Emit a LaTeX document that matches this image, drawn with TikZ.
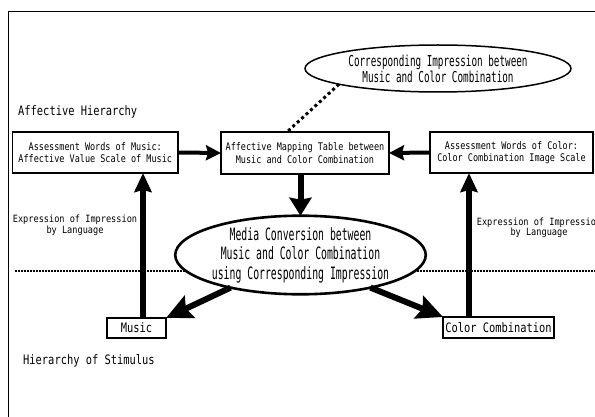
\documentclass[tikz,border=0pt]{standalone}
\usepackage{fontspec}
\usetikzlibrary{arrows.meta,shapes.geometric}
\newfontfamily\boxfont[FakeStretch=0.81]{DejaVu Sans Mono}
\newfontfamily\lblfont[FakeStretch=0.86]{DejaVu Sans Mono}
\newfontfamily\ellfont[FakeStretch=0.577]{DejaVu Sans Mono}
\newfontfamily\topfont[FakeStretch=0.62]{DejaVu Sans Mono}
\newfontfamily\stimfont[FakeStretch=0.8]{DejaVu Sans Mono}
\tikzset{
  thinbox/.style={draw, line width=1.3pt, rectangle, fill=white, inner sep=0pt, outer sep=0pt, align=center,
    font=\boxfont\fontsize{10.5}{12.5}\selectfont},
  thickbox/.style={thinbox, line width=2.6pt},
  stimbox/.style={draw, line width=1.3pt, rectangle, fill=white, inner sep=0pt, outer sep=0pt,
    font=\stimfont\fontsize{13}{15}\selectfont},
  lbl/.style={inner sep=0pt, align=center, font=\lblfont\fontsize{10}{10.5}\selectfont},
  stimlbl/.style={inner sep=0pt, font=\stimfont\fontsize{13}{15}\selectfont},
  topell/.style={draw, ellipse, line width=1.5pt, fill=white, inner sep=0pt, outer sep=0pt, align=center,
    minimum width=266pt, minimum height=47pt, font=\topfont\fontsize{15}{16}\selectfont},
  midell/.style={draw, ellipse, line width=2.6pt, fill=white, inner sep=0pt, outer sep=0pt, align=center,
    minimum width=225pt, minimum height=70pt, font=\ellfont\fontsize{17}{19.5}\selectfont},
  harr/.style={line width=4pt, -{Stealth[length=15pt,width=15pt,inset=2pt]}},
  dnarr/.style={line width=6pt, -{Stealth[length=18pt,width=22pt,inset=2pt]}},
  uparr/.style={line width=5.5pt, -{Stealth[length=19pt,width=17pt,inset=2pt]}},
  diagarr/.style={line width=6pt, -{Stealth[length=26pt,width=24pt,inset=4pt]}},
  dotconn/.style={line width=3pt, dash pattern=on 3pt off 3pt},
  sepline/.style={line width=1.2pt, dash pattern=on 1.5pt off 1.5pt}
}
\begin{document}
\begin{tikzpicture}[x=1pt,y=-1pt]
\useasboundingbox (0,0) rectangle (595,417);
\fill[white] (0,0) rectangle (595,417);
\draw[line width=1pt] (8,430) -- (8,12) -- (610,12);

\node[stimlbl, anchor=west] (ah) at (18,112) {Affective Hierarchy};
\node[stimlbl, anchor=west] (hs) at (23,361) {Hierarchy of Stimulus};

\node[thinbox, minimum width=165.5pt, minimum height=41pt] (lbox) at (95.25,152.5)
  {Assessment Words of Music:\\Affective Value Scale of Music};
\node[thickbox, minimum width=168pt, minimum height=42pt] (mbox) at (305,153)
  {Affective Mapping Table between\\Music and Color Combination};
\node[thinbox, minimum width=163pt, minimum height=41pt] (rbox) at (511.5,152.5)
  {Assessment Words of Color:\\Color Combination Image Scale};

\node[topell] (tell) at (438,68.5) {Corresponding Impression between\\Music and Color Combination};

\draw[sepline] (15,271) -- (610,271);

\node[midell] (mell) at (300.5,255) {Media Conversion between\\Music and Color Combination\\using Corresponding Impression};

\node[lbl] (exl) at (75,225.5) {Expression of Impression\\by Language};
\node[lbl] (exr) at (539,228) {Expression of Impression\\by Language};

\node[stimbox, minimum width=59pt, minimum height=20pt] (music) at (136.5,328) {Music};
\node[stimbox, minimum width=111pt, minimum height=21pt] (cbox) at (498.5,327.5) {Color Combination};

\draw[dotconn] (tell.189) -- (mbox.north -| 287,0);
\draw[harr] (lbox.east) -- (mbox.west);
\draw[harr] (rbox.west) -- (mbox.east);
\draw[dnarr] (mbox.south -| mell.north) -- (mell.north);
\draw[uparr] (music.north -| 143,0) -- (lbox.south -| 143,0);
\draw[uparr] (cbox.north -| 469,0) -- (rbox.south -| 469,0);
\draw[diagarr] (mell.205) -- (music.north east);
\draw[diagarr] (mell.335) -- (cbox.north west);
\end{tikzpicture}
\end{document}
